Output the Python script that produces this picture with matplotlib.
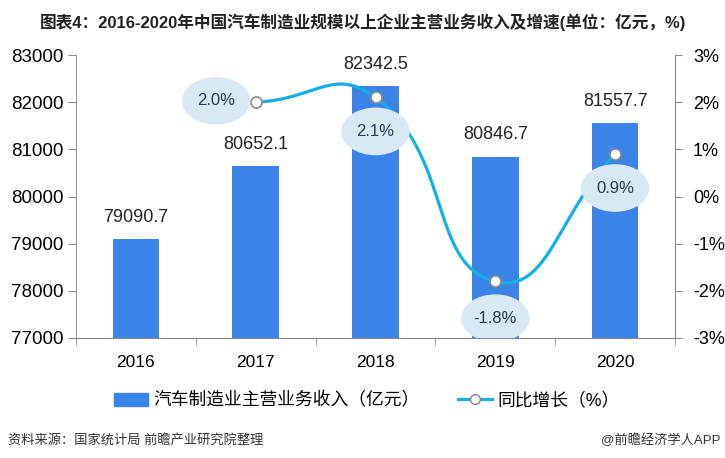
import numpy as np
import matplotlib
matplotlib.use("Agg")
from matplotlib import pyplot as plt
from matplotlib.patches import Ellipse, Patch
from matplotlib.lines import Line2D

plt.rcParams['font.family'] = ['Liberation Sans', 'Noto Sans CJK SC', 'DejaVu Sans']

# Data
years = ["2016", "2017", "2018", "2019", "2020"]
revenue = [79090.7, 80652.1, 82342.5, 80846.7, 81557.7]
growth_years = ["2017", "2018", "2019", "2020"]
growth = [2.0, 2.1, -1.8, 0.9]

BAR_COLOR = "#3A84E8"
LINE_COLOR = "#14AEEA"
ELLIPSE_COLOR = "#D8E9F3"
TEXT_DARK = "#2B3A55"

fig = plt.figure(figsize=(7.25, 4.58), dpi=100)
ax = fig.add_axes([76 / 725, 1 - 338 / 458, 599 / 725, 283 / 458])
ax2 = ax.twinx()

x = np.arange(len(years))
ax.bar(x, revenue, width=0.39, color=BAR_COLOR, zorder=2)
for xi, v in zip(x, revenue):
    ax.text(xi, v + 280, f"{v:.1f}", ha="center", va="bottom", fontsize=13, color="#222222")

ax.set_xlim(-0.5, len(years) - 0.5)
ax.set_ylim(77000, 83000)
ax.set_yticks(range(77000, 83001, 1000))
ax.set_xticks(x)
ax.set_xticklabels(years)
ax.set_xticks(np.arange(-0.5, len(years), 1.0), minor=True)
ax.tick_params(axis="x", which="major", length=0, labelsize=12.5, pad=12)
ax.tick_params(axis="x", which="minor", length=5, color="#888888")
ax.tick_params(axis="y", length=6, color="#888888", labelsize=13.5, pad=3)
for s in ["top", "right"]:
    ax.spines[s].set_visible(False)
ax.spines["left"].set_color("#999999")
ax.spines["bottom"].set_color("#888888")

ax2.set_ylim(-3, 3)
ax2.set_yticks(range(-3, 4))
ax2.set_yticklabels([f"{t}%" for t in range(-3, 4)])
ax2.tick_params(axis="y", length=5, color="#888888", labelsize=13, pad=8)
for s in ["top", "left", "bottom"]:
    ax2.spines[s].set_visible(False)
ax2.spines["right"].set_color("#888888")

# smooth curve through growth points (bezier like echarts smooth)
gx = np.array([years.index(y) for y in growth_years], dtype=float)
gy = np.array(growth)
sx, sy = 120.0, 47.2  # pixel scale per unit
px, py = gx * sx, gy * sy
smooth = 0.5
n = len(px)
cps = []
for i in range(n):
    prev = (px[max(i - 1, 0)], py[max(i - 1, 0)])
    nxt = (px[min(i + 1, n - 1)], py[min(i + 1, n - 1)])
    vx, vy = (nxt[0] - prev[0]) * smooth, (nxt[1] - prev[1]) * smooth
    d0 = np.hypot(px[i] - prev[0], py[i] - prev[1])
    d1 = np.hypot(px[i] - nxt[0], py[i] - nxt[1])
    tot = d0 + d1 if d0 + d1 else 1
    cps.append(((px[i] - vx * d0 / tot, py[i] - vy * d0 / tot),
                (px[i] + vx * d1 / tot, py[i] + vy * d1 / tot)))
cx, cy = [], []
t = np.linspace(0, 1, 60)
for i in range(n - 1):
    p0 = np.array([px[i], py[i]])
    p1 = np.array(cps[i][1])
    p2 = np.array(cps[i + 1][0])
    p3 = np.array([px[i + 1], py[i + 1]])
    pts = ((1 - t) ** 3)[:, None] * p0 + (3 * (1 - t) ** 2 * t)[:, None] * p1 \
        + (3 * (1 - t) * t ** 2)[:, None] * p2 + (t ** 3)[:, None] * p3
    cx.extend(pts[:, 0] / sx)
    cy.extend(pts[:, 1] / sy)
ax2.plot(cx, cy, color=LINE_COLOR, lw=2.3, zorder=3)
ax2.plot(gx, gy, "o", ms=8, mfc="white", mec="#888888", mew=1.2, zorder=4)

# ellipse labels
offsets = [(-0.33, 0.03), (0, -0.72), (0, -0.78), (0, -0.72)]
for xi, yi, (dx, dy) in zip(gx, gy, offsets):
    ex, ey = xi + dx, yi + dy
    ax2.add_patch(Ellipse((ex, ey), 0.56, 0.98, color=ELLIPSE_COLOR, zorder=5))
    ax2.text(ex, ey, f"{yi:.1f}%", ha="center", va="center", fontsize=12,
             color=TEXT_DARK, zorder=6)

fig.text(40 / 725, 1 - 22 / 458,
         "图表4：2016-2020年中国汽车制造业规模以上企业主营业务收入及增速(单位：亿元，%)",
         fontsize=12, fontweight="bold", color="#222222", va="center", ha="left")

handles = [Patch(color=BAR_COLOR),
           Line2D([0], [0], color=LINE_COLOR, lw=2.3, marker="o", ms=7,
                  mfc="white", mec="#888888")]
fig.legend(handles, ["汽车制造业主营业务收入（亿元）", "同比增长（%）"],
           loc="center", bbox_to_anchor=(0.506, 1 - 401 / 458), ncol=2, frameon=False,
           fontsize=12.8, handlelength=1.9, columnspacing=2.2, handletextpad=0.3)

fig.text(8 / 725, 1 - 440 / 458, "资料来源：国家统计局 前瞻产业研究院整理",
         fontsize=9.5, color="#333333", va="center", ha="left")
fig.text(720 / 725, 1 - 440 / 458, "@前瞻经济学人APP",
         fontsize=9.5, color="#333333", va="center", ha="right")

fig.savefig("out.png", dpi=100)
